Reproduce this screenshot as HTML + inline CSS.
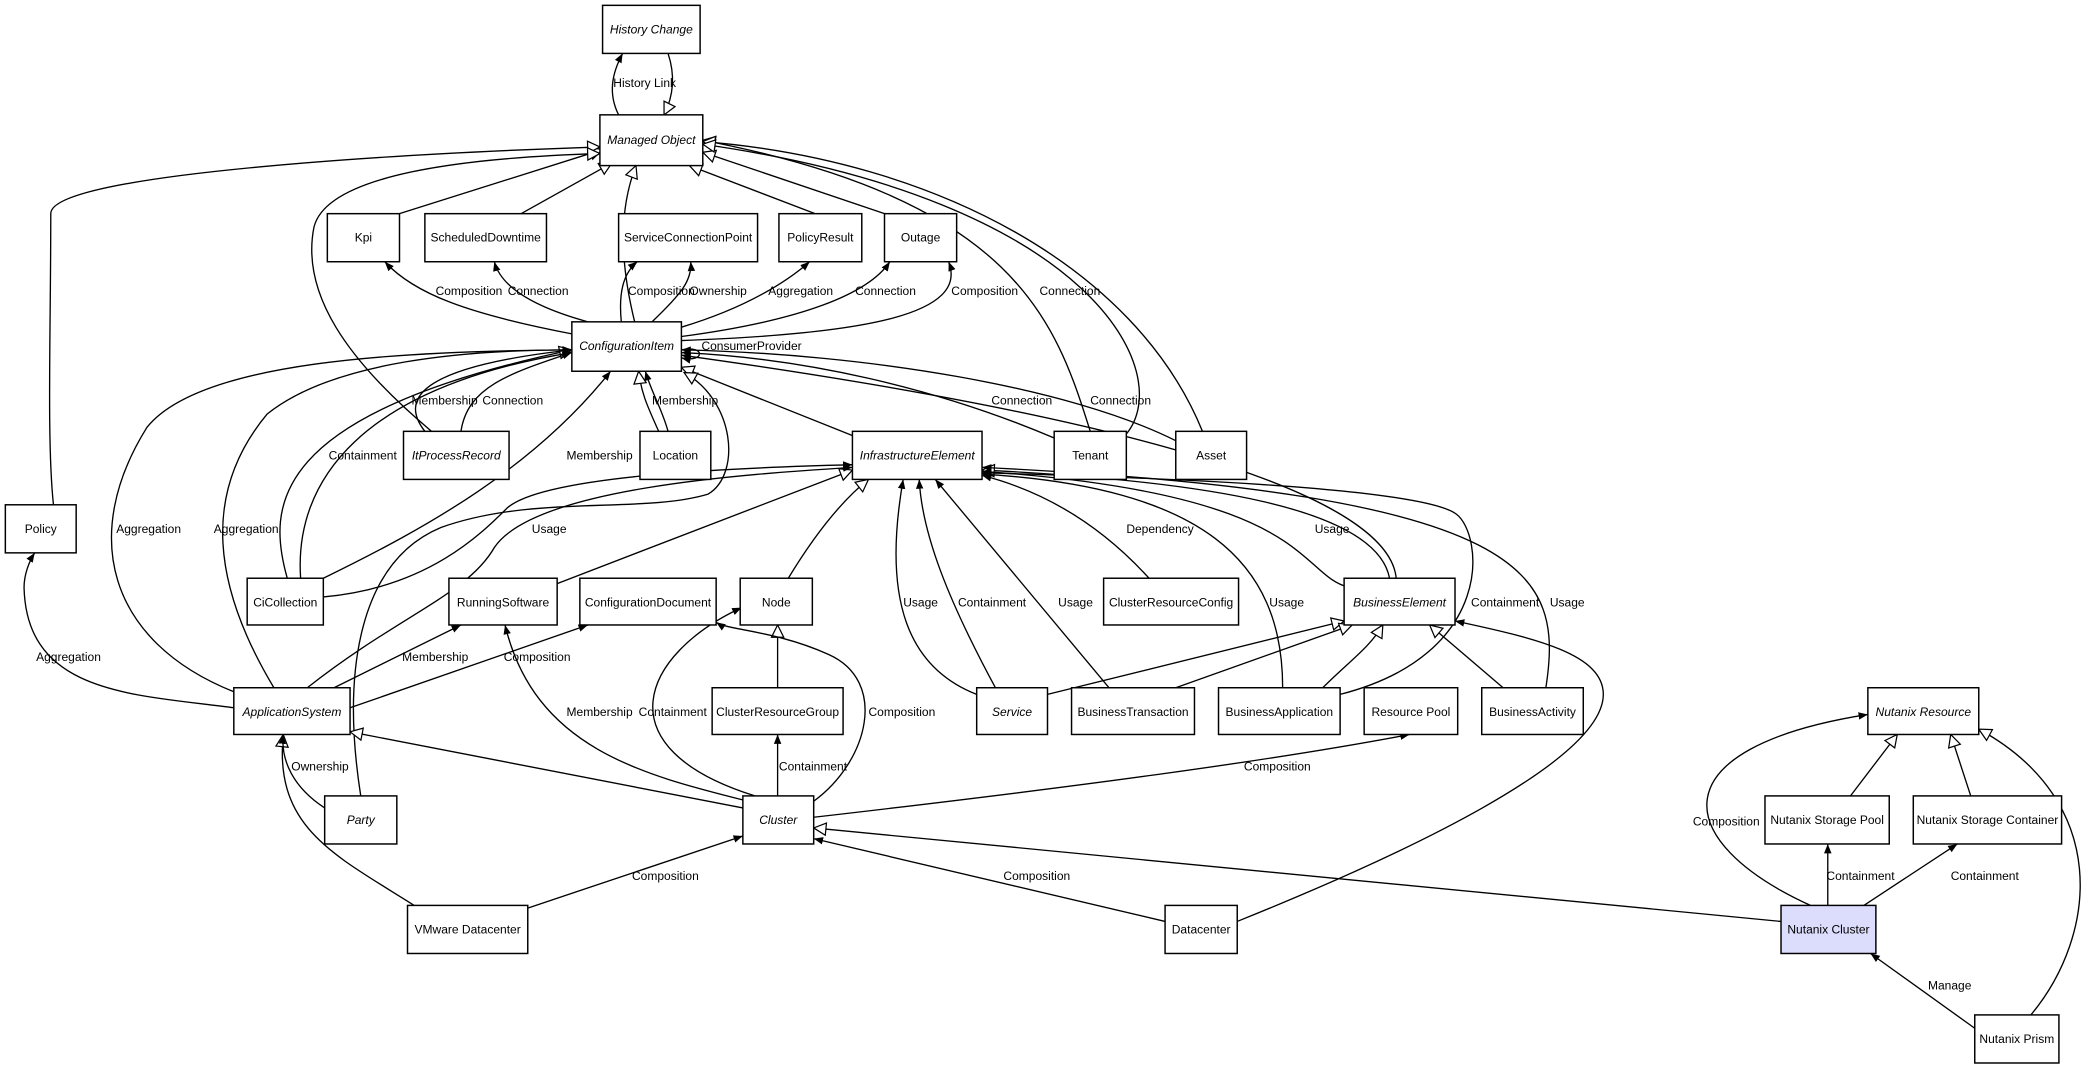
<!DOCTYPE html>
<html><head><meta charset="utf-8"><style>
html,body{margin:0;padding:0;background:#fff;}
svg{display:block;}
text{font-family:"Liberation Sans",sans-serif;font-size:9px;fill:#000;}
.n{fill:#fff;stroke:#000;stroke-width:1.1;}
.e{fill:none;stroke:#000;stroke-width:1;}
.i{font-style:italic;}
</style></head><body>
<svg width="2095" height="1071" viewBox="0 0 1568 802" preserveAspectRatio="none" xmlns="http://www.w3.org/2000/svg">
<defs>
<marker id="f" viewBox="0 0 10 10" refX="10" refY="5" markerWidth="7" markerHeight="7" orient="auto" markerUnits="userSpaceOnUse"><path d="M0,1 L10,5 L0,9 z" fill="#000"/></marker>
<marker id="h" viewBox="0 0 12 12" refX="11" refY="6" markerWidth="11" markerHeight="11" orient="auto" markerUnits="userSpaceOnUse"><path d="M1,1 L11,6 L1,11 z" fill="#fff" stroke="#000" stroke-width="1"/></marker>
</defs>

<g class="e" marker-end="url(#h)" fill="none" stroke="#000">
<path d="M500,40 C505,55 505,70 497,86"/>
<path d="M299,160 L451,112"/>
<path d="M390,160 L458,122"/>
<path d="M475,241 C465,200 462,160 476,124"/>
<path d="M610,160 L516,124"/>
<path d="M662,160 L526,114"/>
<path d="M40,378 C35,330 38,250 38,160 C38,130 300,115 449,110"/>
<path d="M323,323 C260,270 225,220 235,170 C245,130 350,118 449,115"/>
<path d="M816,323 C790,240 760,150 526,105"/>
<path d="M900,323 C850,200 700,120 526,106"/>
<path d="M843,325 C880,280 820,150 526,108"/>
<path d="M493,323 C485,305 480,295 478,278"/>
<path d="M640,327 L510,275"/>
<path d="M590,433 C610,400 630,375 650,359"/>
<path d="M417,437 L638,352"/>
<path d="M215,433 C200,380 200,310 428,262"/>
<path d="M270,596 C255,500 270,420 330,395 C400,370 480,385 530,370 C555,355 550,300 512,279"/>
<path d="M1040,433 C1030,380 900,360 735,352"/>
<path d="M784,520 L1006,465"/>
<path d="M880,515 L1012,468"/>
<path d="M990,515 C1010,495 1025,485 1035,468"/>
<path d="M1125,515 L1070,468"/>
<path d="M582,515 L582,468"/>
<path d="M556,605 L262,548"/>
<path d="M310,678 C250,640 205,620 212,550"/>
<path d="M1333,690 L609,620"/>
<path d="M1385,596 L1420,550"/>
<path d="M1475,596 L1460,550"/>
<path d="M1520,760 C1570,700 1580,600 1481,546"/>
</g>

<g class="e" marker-end="url(#f)">
<path d="M463,86 C455,70 458,55 466,40"/>
<path d="M500,323 C495,305 488,295 483,278"/>
<path d="M428,250 C350,235 310,220 288,196"/>
<path d="M440,241 C400,230 375,215 370,196"/>
<path d="M465,241 C463,220 466,205 477,196"/>
<path d="M488,241 C510,220 518,210 517,196"/>
<path d="M510,245 C560,230 590,210 606,196"/>
<path d="M510,252 C600,240 650,220 666,196"/>
<path d="M510,255 C650,250 725,235 710,196"/>
<path d="M510,262 C528,258 528,272 510,268"/>
<path d="M318,323 C300,300 310,275 428,262"/>
<path d="M345,323 C350,290 380,280 428,264"/>
<path d="M225,433 C220,360 270,290 428,264"/>
<path d="M242,433 C320,395 400,350 457,278"/>
<path d="M175,518 C80,480 60,400 110,320 C150,270 300,263 428,262"/>
<path d="M205,515 C160,440 150,370 200,310 C250,270 350,262 428,262"/>
<path d="M789,328 C700,290 600,268 510,264"/>
<path d="M880,330 C800,290 650,265 510,262"/>
<path d="M1045,433 C1040,380 900,320 510,266"/>
<path d="M230,515 C300,460 350,445 370,410 C400,365 560,355 638,350"/>
<path d="M242,447 C320,440 360,400 380,380 C410,355 560,350 638,348"/>
<path d="M731,520 C680,500 660,450 676,359"/>
<path d="M745,515 C710,450 690,400 688,359"/>
<path d="M830,515 L700,359"/>
<path d="M860,433 C830,400 790,370 735,356"/>
<path d="M960,515 C960,420 900,365 735,355"/>
<path d="M1010,440 C970,430 985,370 735,353"/>
<path d="M1003,520 C1120,490 1110,400 1090,385 C1060,362 800,356 735,354"/>
<path d="M1157,515 C1170,430 1150,370 735,350"/>
<path d="M926,690 C1050,640 1200,570 1200,520 C1200,490 1150,478 1089,465"/>
<path d="M250,515 L345,468"/>
<path d="M262,530 L440,468"/>
<path d="M175,530 C100,520 20,520 18,440 C18,430 22,420 26,414"/>
<path d="M243,605 C220,590 210,570 212,550"/>
<path d="M560,600 C480,580 400,560 378,468"/>
<path d="M565,596 C450,560 480,490 555,455"/>
<path d="M582,596 L582,550"/>
<path d="M609,600 C650,570 665,510 620,490 C580,472 545,472 536,466"/>
<path d="M609,612 C800,590 950,570 1055,550"/>
<path d="M395,680 L556,626"/>
<path d="M872,690 L609,628"/>
<path d="M1355,678 C1250,630 1240,560 1398,535"/>
<path d="M1368,678 L1368,632"/>
<path d="M1395,678 L1465,632"/>
<path d="M1478,770 L1400,714"/>
</g>

<g>
<rect class="n" x="451" y="4" width="73" height="36"/><text class="i" x="487.5" y="25" text-anchor="middle">History Change</text>
<rect class="n" x="449" y="86" width="77" height="38"/><text class="i" x="487.5" y="108" text-anchor="middle">Managed Object</text>
<rect class="n" x="245" y="160" width="54" height="36"/><text x="272" y="181" text-anchor="middle">Kpi</text>
<rect class="n" x="318" y="160" width="91" height="36"/><text x="363.5" y="181" text-anchor="middle">ScheduledDowntime</text>
<rect class="n" x="463" y="160" width="104" height="36"/><text x="515" y="181" text-anchor="middle">ServiceConnectionPoint</text>
<rect class="n" x="583" y="160" width="62" height="36"/><text x="614" y="181" text-anchor="middle">PolicyResult</text>
<rect class="n" x="662" y="160" width="54" height="36"/><text x="689" y="181" text-anchor="middle">Outage</text>
<rect class="n" x="428" y="241" width="82" height="37"/><text class="i" x="469" y="262" text-anchor="middle">ConfigurationItem</text>
<rect class="n" x="302" y="323" width="79" height="36"/><text class="i" x="341.5" y="344" text-anchor="middle">ItProcessRecord</text>
<rect class="n" x="479" y="323" width="53" height="36"/><text x="505.5" y="344" text-anchor="middle">Location</text>
<rect class="n" x="638" y="323" width="97" height="36"/><text class="i" x="686.5" y="344" text-anchor="middle">InfrastructureElement</text>
<rect class="n" x="789" y="323" width="54" height="36"/><text x="816" y="344" text-anchor="middle">Tenant</text>
<rect class="n" x="880" y="323" width="53" height="36"/><text x="906.5" y="344" text-anchor="middle">Asset</text>
<rect class="n" x="4" y="378" width="53" height="36"/><text x="30.5" y="399" text-anchor="middle">Policy</text>
<rect class="n" x="185" y="433" width="57" height="35"/><text x="213.5" y="454" text-anchor="middle">CiCollection</text>
<rect class="n" x="336" y="433" width="81" height="35"/><text x="376.5" y="454" text-anchor="middle">RunningSoftware</text>
<rect class="n" x="434" y="433" width="102" height="35"/><text x="485" y="454" text-anchor="middle">ConfigurationDocument</text>
<rect class="n" x="554" y="433" width="54" height="35"/><text x="581" y="454" text-anchor="middle">Node</text>
<rect class="n" x="826" y="433" width="101" height="35"/><text x="876.5" y="454" text-anchor="middle">ClusterResourceConfig</text>
<rect class="n" x="1006" y="433" width="83" height="35"/><text class="i" x="1047.5" y="454" text-anchor="middle">BusinessElement</text>
<rect class="n" x="175" y="515" width="87" height="35"/><text class="i" x="218.5" y="536" text-anchor="middle">ApplicationSystem</text>
<rect class="n" x="533" y="515" width="98" height="35"/><text x="582" y="536" text-anchor="middle">ClusterResourceGroup</text>
<rect class="n" x="731" y="515" width="53" height="35"/><text class="i" x="757.5" y="536" text-anchor="middle">Service</text>
<rect class="n" x="802" y="515" width="92" height="35"/><text x="848" y="536" text-anchor="middle">BusinessTransaction</text>
<rect class="n" x="912" y="515" width="91" height="35"/><text x="957.5" y="536" text-anchor="middle">BusinessApplication</text>
<rect class="n" x="1021" y="515" width="70" height="35"/><text x="1056" y="536" text-anchor="middle">Resource Pool</text>
<rect class="n" x="1109" y="515" width="76" height="35"/><text x="1147" y="536" text-anchor="middle">BusinessActivity</text>
<rect class="n" x="1398" y="515" width="83" height="35"/><text class="i" x="1439.5" y="536" text-anchor="middle">Nutanix Resource</text>
<rect class="n" x="243" y="596" width="54" height="36"/><text class="i" x="270" y="617" text-anchor="middle">Party</text>
<rect class="n" x="556" y="596" width="53" height="36"/><text class="i" x="582.5" y="617" text-anchor="middle">Cluster</text>
<rect class="n" x="1321" y="596" width="93" height="36"/><text x="1367.5" y="617" text-anchor="middle">Nutanix Storage Pool</text>
<rect class="n" x="1432" y="596" width="111" height="36"/><text x="1487.5" y="617" text-anchor="middle">Nutanix Storage Container</text>
<rect class="n" x="305" y="678" width="90" height="36"/><text x="350" y="699" text-anchor="middle">VMware Datacenter</text>
<rect class="n" x="872" y="678" width="54" height="36"/><text x="899" y="699" text-anchor="middle">Datacenter</text>
<rect class="n" x="1333" y="678" width="71" height="36" style="fill:#dcdcfc"/><text x="1368.5" y="699" text-anchor="middle">Nutanix Cluster</text>
<rect class="n" x="1478" y="760" width="63" height="36"/><text x="1509.5" y="781" text-anchor="middle">Nutanix Prism</text>
</g>

<g>
<text x="459" y="65">History Link</text>
<text x="326" y="221">Composition</text>
<text x="380" y="221">Connection</text>
<text x="470" y="221">Composition</text>
<text x="516" y="221">Ownership</text>
<text x="575" y="221">Aggregation</text>
<text x="640" y="221">Connection</text>
<text x="712" y="221">Composition</text>
<text x="778" y="221">Connection</text>
<text x="525" y="262">ConsumerProvider</text>
<text x="308" y="303">Membership</text>
<text x="361" y="303">Connection</text>
<text x="488" y="303">Membership</text>
<text x="742" y="303">Connection</text>
<text x="816" y="303">Connection</text>
<text x="246" y="344">Containment</text>
<text x="424" y="344">Membership</text>
<text x="87" y="399">Aggregation</text>
<text x="160" y="399">Aggregation</text>
<text x="398" y="399">Usage</text>
<text x="843" y="399">Dependency</text>
<text x="984" y="399">Usage</text>
<text x="676" y="454">Usage</text>
<text x="717" y="454">Containment</text>
<text x="792" y="454">Usage</text>
<text x="950" y="454">Usage</text>
<text x="1101" y="454">Containment</text>
<text x="1160" y="454">Usage</text>
<text x="27" y="495">Aggregation</text>
<text x="301" y="495">Membership</text>
<text x="377" y="495">Composition</text>
<text x="424" y="536">Membership</text>
<text x="478" y="536">Containment</text>
<text x="650" y="536">Composition</text>
<text x="218" y="577">Ownership</text>
<text x="583" y="577">Containment</text>
<text x="931" y="577">Composition</text>
<text x="1267" y="618">Composition</text>
<text x="473" y="659">Composition</text>
<text x="751" y="659">Composition</text>
<text x="1367" y="659">Containment</text>
<text x="1460" y="659">Containment</text>
<text x="1443" y="741">Manage</text>
</g>
</svg>
</body></html>
